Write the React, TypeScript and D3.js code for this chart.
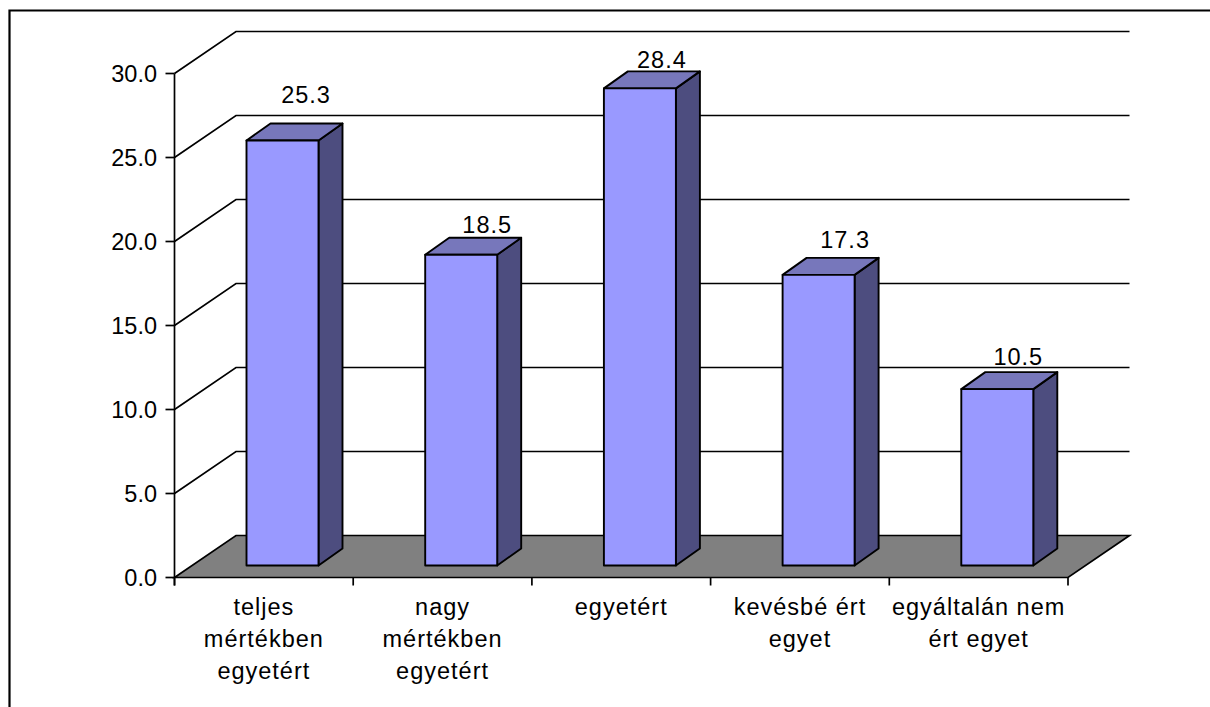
import React from "react";
import * as d3 from "d3";

const categories: string[][] = [
  ["teljes", "mértékben", "egyetért"],
  ["nagy", "mértékben", "egyetért"],
  ["egyetért"],
  ["kevésbé ért", "egyet"],
  ["egyáltalán nem", "ért egyet"],
];
const values = [25.3, 18.5, 28.4, 17.3, 10.5];
const yTicks = [0, 5, 10, 15, 20, 25, 30];

// Hand placement of the value labels relative to each column's top-left corner
const labelShiftX = [59.5, 62, 58, 62.5, 57];
const labelLift = [37.5, 21.5, 20, 26.5, 24];

const W = 1210;
const H = 707;
const plotLeft = 174.5;
const plotRight = 1068;
const y = d3.scaleLinear().domain([0, 30]).range([577.5, 73.5]);
const x = d3.scaleBand<number>().domain(d3.range(values.length)).range([plotLeft, plotRight]);

// Oblique offset of the back wall and of a single column
const wallDx = 61.5;
const wallDy = 42;
const barDx = 24;
const barDy = 17;
const barInsetX = 72;
const barInsetY = 12;
const barWidth = 72;

const font = "'Liberation Sans', Arial, sans-serif";
const stroke = "#000";
const lineW = 1.7;
const pts = (p: number[][]) => p.map((c) => c.join(",")).join(" ");

export default function App() {
  const y0 = y(0);
  return (
    <svg width={W} height={H} viewBox={`0 0 ${W} ${H}`} style={{ position: "absolute", left: 0, top: 0, background: "#fff" }}>
      {/* outer frame: left and top edges only */}
      <path d="M9.5,707 V10.5 H1210" fill="none" stroke={stroke} strokeWidth={2.2} />

      {/* gridlines across wall and side */}
      {yTicks.slice(1).map((t) => (
        <path
          key={t}
          d={`M${plotLeft},${y(t)} L${plotLeft + wallDx},${y(t) - wallDy} H${plotRight + wallDx}`}
          fill="none"
          stroke={stroke}
          strokeWidth={lineW}
        />
      ))}

      {/* floor */}
      <polygon
        points={pts([
          [plotLeft, y0],
          [plotLeft + wallDx, y0 - wallDy],
          [plotRight + wallDx, y0 - wallDy],
          [plotRight, y0],
        ])}
        fill="#808080"
        stroke={stroke}
        strokeWidth={lineW}
      />

      {/* axes and ticks */}
      <line x1={plotLeft} x2={plotLeft} y1={y(30)} y2={y0 + 8} stroke={stroke} strokeWidth={lineW} />
      {yTicks.map((t) => (
        <g key={t}>
          <line x1={plotLeft - 9} x2={plotLeft} y1={y(t)} y2={y(t)} stroke={stroke} strokeWidth={lineW} />
          <text x={157} y={y(t) + 8} textAnchor="end" fontFamily={font} fontSize={23.5} fill="#000">
            {d3.format(".1f")(t)}
          </text>
        </g>
      ))}
      {d3.range(values.length + 1).map((i) => {
        const px = plotLeft + i * x.step();
        return <line key={i} x1={px} x2={px} y1={y0} y2={y0 + 8} stroke={stroke} strokeWidth={lineW} />;
      })}

      {/* columns */}
      {values.map((v, i) => {
        const left = (x(i) as number) + barInsetX;
        const right = left + barWidth;
        const bottom = y0 - barInsetY;
        const top = bottom - (y0 - y(v));
        return (
          <g key={i} stroke={stroke} strokeWidth={1.9} strokeLinejoin="round">
            <polygon
              points={pts([[right, top], [right + barDx, top - barDy], [right + barDx, bottom - barDy], [right, bottom]])}
              fill="#4D4D7F"
            />
            <polygon
              points={pts([[left, top], [left + barDx, top - barDy], [right + barDx, top - barDy], [right, top]])}
              fill="#7777BB"
            />
            <rect x={left} y={top} width={barWidth} height={bottom - top} fill="#9999FF" />
            <text
              x={left + labelShiftX[i]}
              y={top - labelLift[i]}
              textAnchor="middle"
              fontFamily={font}
              fontSize={23.5}
              letterSpacing={1}
              fill="#000"
              stroke="none"
            >
              {v.toFixed(1)}
            </text>
          </g>
        );
      })}

      {/* category labels */}
      {categories.map((lines, i) => (
        <text
          key={i}
          textAnchor="middle"
          fontFamily={font}
          fontSize={23.5}
          letterSpacing={1}
          fill="#000"
        >
          {lines.map((l, j) => (
            <tspan key={j} x={(x(i) as number) + x.step() / 2} y={615 + j * 32}>
              {l}
            </tspan>
          ))}
        </text>
      ))}
    </svg>
  );
}
